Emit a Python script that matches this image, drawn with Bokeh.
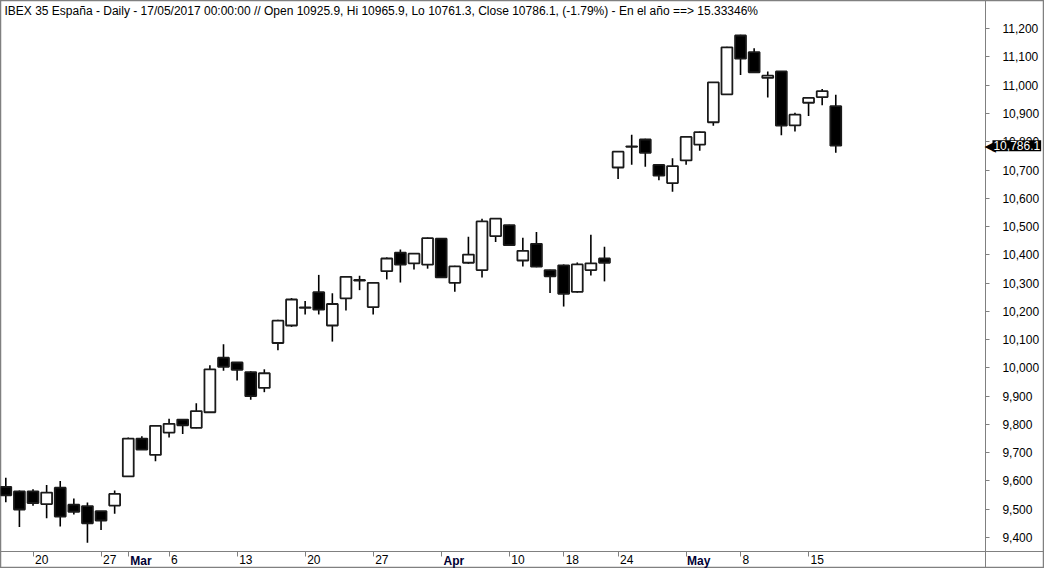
from bokeh.plotting import figure
from bokeh.models import (ColumnDataSource, FixedTicker, NumeralTickFormatter, Range1d,
                          Label, LinearAxis)
from bokeh.embed import file_html
from bokeh.resources import INLINE

# ---- data -------------------------------------------------------------
dates = ["2017-02-16", "2017-02-17", "2017-02-20", "2017-02-21", "2017-02-22", "2017-02-23",
         "2017-02-24", "2017-02-27", "2017-02-28",
         "2017-03-01", "2017-03-02", "2017-03-03", "2017-03-06", "2017-03-07", "2017-03-08",
         "2017-03-09", "2017-03-10", "2017-03-13", "2017-03-14", "2017-03-15", "2017-03-16",
         "2017-03-17", "2017-03-20", "2017-03-21", "2017-03-22", "2017-03-23", "2017-03-24",
         "2017-03-27", "2017-03-28", "2017-03-29", "2017-03-30", "2017-03-31",
         "2017-04-03", "2017-04-04", "2017-04-05", "2017-04-06", "2017-04-07", "2017-04-10",
         "2017-04-11", "2017-04-12", "2017-04-13", "2017-04-18", "2017-04-19", "2017-04-20",
         "2017-04-21", "2017-04-24", "2017-04-25", "2017-04-26", "2017-04-27", "2017-04-28",
         "2017-05-02", "2017-05-03", "2017-05-04", "2017-05-05", "2017-05-08", "2017-05-09",
         "2017-05-10", "2017-05-11", "2017-05-12", "2017-05-15", "2017-05-16", "2017-05-17"]

open_ = [9579, 9563, 9563, 9518, 9576, 9516, 9511, 9493, 9513,
         9616, 9750, 9692, 9771, 9817, 9788, 9843, 10036, 10019, 9985, 9929, 10088,
         10150, 10212, 10268, 10150, 10246, 10311, 10215, 10342, 10408, 10370, 10365,
         10457, 10301, 10372, 10346, 10466, 10505, 10380, 10439, 10346, 10363, 10269,
         10346, 10387, 10709, 10782, 10808, 10718, 10654,
         10734, 10790, 10869, 10968, 11176, 11117, 11026, 11049, 10858, 10938, 10958, 10925.9]
high = [9611, 9566, 9571, 9586, 9600, 9538, 9524, 9494, 9566,
        9754, 9758, 9797, 9820, 9818, 9875, 10009, 10084, 10020, 9988, 9995, 10170,
        10247, 10237, 10329, 10264, 10323, 10326, 10302, 10391, 10419, 10406, 10461,
        10458, 10361, 10464, 10528, 10530, 10506, 10460, 10481, 10347, 10366, 10373,
        10471, 10429, 10767, 10825, 10811, 10719, 10742,
        10819, 10836, 11011, 11136, 11179, 11131, 11049, 11050, 10903, 10956, 10987, 10965.9]
low = [9525, 9437, 9512, 9468, 9439, 9481, 9381, 9426, 9484,
       9614, 9710, 9670, 9754, 9766, 9786, 9840, 9990, 9955, 9887, 9914, 10062,
       10145, 10189, 10189, 10093, 10203, 10275, 10189, 10313, 10302, 10348, 10351,
       10319, 10269, 10368, 10320, 10445, 10432, 10359, 10356, 10265, 10217, 10266,
       10327, 10306, 10668, 10719, 10712, 10664, 10623,
       10719, 10768, 10857, 10966, 11036, 11045, 10957, 10823, 10836, 10891, 10929, 10761.3]
close = [9549, 9499, 9522, 9559, 9474, 9491, 9450, 9460, 9554,
         9750, 9711, 9795, 9802, 9797, 9847, 9995, 10004, 9993, 9900, 9981, 10167,
         10242, 10214, 10206, 10226, 10322, 10309, 10301, 10387, 10365, 10404, 10459,
         10320, 10359, 10401, 10518, 10528, 10434, 10414, 10358, 10324, 10262, 10366,
         10370, 10372, 10765, 10784, 10761, 10680, 10714,
         10817, 10834, 11010, 11134, 11094, 11046, 11034, 10857, 10896, 10955, 10979, 10786.1]

tick_pos = [2, 7, 9, 12, 17, 22, 27, 32, 37, 41, 45, 50, 54, 59]
tick_labels = ["20", "27", "Mar", "6", "13", "20", "27", "Apr", "10", "18", "24", "May", "8", "15"]
month_labels = ["Mar", "Apr", "May"]

price_ticks = list(range(9400, 11201, 100))

title_text = ("IBEX 35 España - Daily - 17/05/2017 00:00:00 // Open 10925.9, Hi 10965.9, "
              "Lo 10761.3, Close 10786.1, (-1.79%) - En el año ==> 15.33346%")
last_label = "10,786.1"

# ---- derived -----------------------------------------------------------
xs = list(range(len(dates)))
tops = [max(o, c) for o, c in zip(open_, close)]
bots = [min(o, c) for o, c in zip(open_, close)]
fills = ["white" if c >= o else "black" for o, c in zip(open_, close)]
src = ColumnDataSource(dict(x=xs, date=dates, open=open_, high=high, low=low, close=close,
                            top=tops, bottom=bots, fill=fills))

W, H = 1044, 568
X0, X_AX, X1 = -0.39, 72.0, 76.34          # left edge, price-axis line, right edge
Y0, Y_AX, Y1 = 9290.2, 9348.7, 11299.8      # bottom edge, date-axis line, top edge
PX = W / (X1 - X0)                          # screen px per bar
FONT = "Liberation Sans"

p = figure(width=W, height=H, x_range=Range1d(X0, X1), y_range=Range1d(Y0, Y1),
           x_axis_location=None, y_axis_location=None,
           toolbar_location=None, output_backend="svg",
           min_border=0, background_fill_color="white", border_fill_color="white")
p.outline_line_color = "#808080"
p.outline_line_width = 1.5
p.grid.visible = False

# wicks and bodies
p.segment(x0="x", y0="high", x1="x", y1="low", source=src, line_color="black", line_width=1.6)
p.vbar(x="x", width=0.8, top="top", bottom="bottom", fill_color="fill",
       line_color="#1a1a1a", line_width=1.8, source=src)

# price axis (right side, drawn at its fixed position inside the frame)
ya = LinearAxis(fixed_location=X_AX, ticker=FixedTicker(ticks=price_ticks),
                formatter=NumeralTickFormatter(format="0,0"))
ya.major_tick_in = 0
ya.major_tick_out = 4
ya.minor_tick_line_color = None
ya.axis_line_color = "#808080"
ya.major_tick_line_color = "#808080"
ya.major_label_text_font = FONT
ya.major_label_text_font_size = "12px"
ya.major_label_text_color = "black"
ya.major_label_standoff = 13
p.add_layout(ya, "right")

# date axis: tick marks
xa = LinearAxis(fixed_location=Y_AX, ticker=FixedTicker(ticks=tick_pos))
xa.major_label_overrides = {t: "" for t in tick_pos}
xa.major_label_text_font_size = "1px"
xa.major_tick_in = 0
xa.major_tick_out = 5
xa.minor_tick_line_color = None
xa.axis_line_color = "#808080"
xa.major_tick_line_color = "#808080"
p.add_layout(xa, "below")


def label_axis(bold):
    # label centres sit just right of their tick, as in the reference
    pos, over = [], {}
    for t, l in zip(tick_pos, tick_labels):
        if (l in month_labels) != bold:
            continue
        w = (7.1 if bold else 6.7) * len(l)
        c = round(t + (2 + w / 2) / PX, 3)
        pos.append(c)
        over[c] = l
    ax = LinearAxis(fixed_location=Y_AX, ticker=FixedTicker(ticks=pos))
    ax.major_label_overrides = over
    ax.major_tick_in = 0
    ax.major_tick_out = 0
    ax.minor_tick_line_color = None
    ax.axis_line_color = None
    ax.major_tick_line_color = None
    ax.major_label_standoff = 2 if bold else 3
    ax.major_label_text_font = FONT
    ax.major_label_text_font_size = "12px"
    ax.major_label_text_color = "#000033" if bold else "black"
    ax.major_label_text_font_style = "bold" if bold else "normal"
    p.add_layout(ax, "below")


label_axis(False)
label_axis(True)

# title inside the chart
p.add_layout(Label(x=X0, y=Y1, x_offset=4, y_offset=-3, text=title_text, text_align="left",
                   text_baseline="top", text_font=FONT, text_font_size="12px",
                   text_color="black"))

# last-price marker on the price axis
p.add_layout(Label(x=X_AX, y=close[-1], x_offset=-1, text="\u25C0", text_align="left",
                   text_baseline="middle", text_font="DejaVu Sans",
                   text_font_size="15px", text_color="black"))
p.add_layout(Label(x=X_AX, y=close[-1], x_offset=7, text=last_label, text_align="left",
                   text_baseline="middle", text_font=FONT, text_font_size="12px",
                   text_color="white", background_fill_color="black", padding=1))

open("out.html", "w").write(file_html(p, INLINE))
